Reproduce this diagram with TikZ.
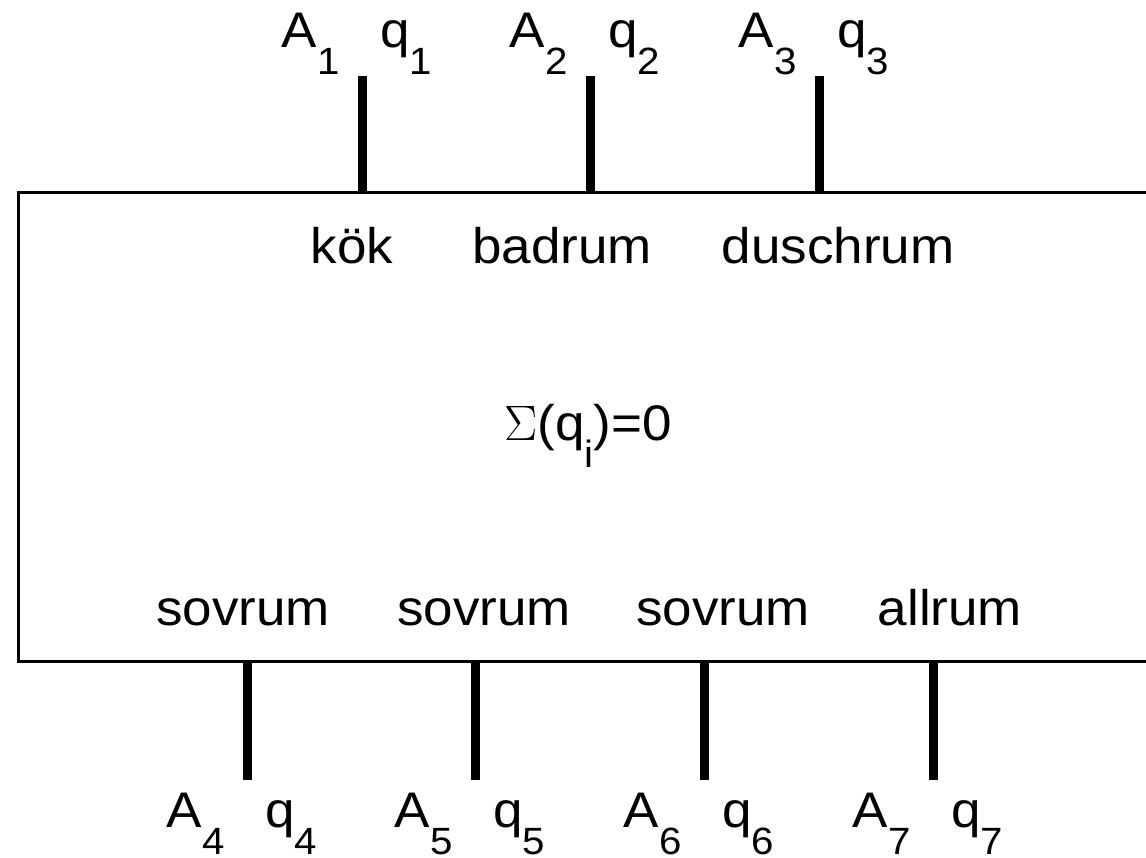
\documentclass[tikz,border=0pt]{standalone}
\usepackage{fontspec}
\setmainfont{Liberation Sans}[FakeStretch=1.06]
\usetikzlibrary{positioning}
\newcommand{\lowsub}[1]{\raisebox{-13.5pt}{\fontsize{19}{19}\selectfont #1}}

\begin{document}
\begin{tikzpicture}[
  x=0.5pt, y=-0.5pt,
  every node/.style={inner sep=0pt, font=\fontsize{25}{30}\selectfont},
  frame/.style={line width=1.5pt},
  stub/.style={line width=4.5pt}
]
\useasboundingbox (0,0) rectangle (1146,857);
\draw[frame] (18,192) rectangle (1190,661);
% top connections
\foreach \n/\x in {1/362, 2/590, 3/819} {
  \coordinate (top\n) at (\x,192);
  \coordinate (topend\n) at (\x,76);
  \draw[stub] (top\n) -- (topend\n);
  \node[anchor=base east] (A\n) at (\x-22,47) {A\lowsub{\n}};
  \node[anchor=base west] (q\n) at (\x+18,47) {q\lowsub{\n}};
}
% bottom connections
\foreach \n/\x in {4/247, 5/475, 6/704, 7/933} {
  \coordinate (bot\n) at (\x,661);
  \coordinate (botend\n) at (\x,780);
  \draw[stub] (bot\n) -- (botend\n);
  \node[anchor=base east] (A\n) at (\x-22,827) {A\lowsub{\n}};
  \node[anchor=base west] (q\n) at (\x+18,827) {q\lowsub{\n}};
}
% rooms
\node[anchor=base] (kok)   at (352,263) {kök};
\node[anchor=base] (bad)   at (562,263) {badrum};
\node[anchor=base] (dusch) at (838,263) {duschrum};
\node[anchor=base] (sov1)  at (243,625) {sovrum};
\node[anchor=base] (sov2)  at (484,625) {sovrum};
\node[anchor=base] (sov3)  at (723,625) {sovrum};
\node[anchor=base] (all)   at (950,625) {allrum};
\node[anchor=base] (sum)   at (588,440) {$\Sigma$(q\lowsub{i})=0};
\end{tikzpicture}
\end{document}
